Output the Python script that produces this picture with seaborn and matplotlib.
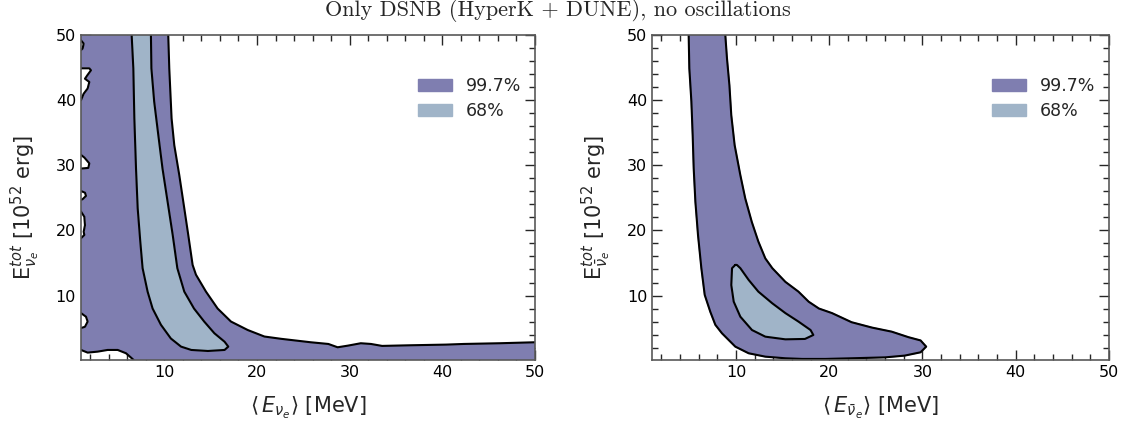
import matplotlib
matplotlib.use("Agg")
import matplotlib.pyplot as plt
import matplotlib.patches as mpatches
import seaborn as sns
import numpy as np

# Contour boundaries (x = <E> [MeV], y = E_tot [1e52 erg])
XMIN, XMAX, YMIN, YMAX = 1.0, 50.0, 0.1, 50.0

# --- nu_e panel: 99.7% region, right/upper boundary
nue_outer_x = [10.42, 10.53, 10.78, 11.07, 11.61, 12.15, 12.58, 13.05, 13.41, 14.49,
               15.75, 17.19, 19.0, 20.8, 22.6, 25.8, 27.7, 28.7, 29.8, 31.2,
               32.3, 33.5, 36.6, 40.4, 42.3, 46.2, 50.0]
nue_outer_y = [50.0, 44.9, 37.2, 33.1, 28.5, 23.4, 19.3, 14.7, 13.2, 10.6,
               8.0, 6.0, 4.7, 3.7, 3.35, 2.82, 2.56, 2.05, 2.3, 2.67,
               2.56, 2.26, 2.36, 2.46, 2.56, 2.67, 2.82]
# bottom-left excluded region (left edge to bottom edge)
nue_low_x = [1.0, 1.72, 2.8, 3.88, 4.96, 5.86, 6.4, 6.68]
nue_low_y = [1.64, 1.23, 1.38, 1.64, 1.64, 1.13, 0.46, 0.1]
# small excluded islands along the left edge
nue_holes = [
    ([1.0, 1.29, 1.18, 1.0], [49.2, 48.7, 47.95, 47.7]),
    ([1.0, 1.9, 2.08, 1.72, 1.43, 1.9, 1.72, 1.29, 1.0],
     [44.9, 44.9, 44.6, 43.9, 43.3, 42.8, 41.8, 41.0, 40.0]),
    ([1.0, 1.36, 1.9, 1.79, 1.0], [31.6, 31.2, 30.3, 29.6, 29.5]),
    ([1.0, 1.43, 1.54, 1.18, 1.0], [26.05, 25.8, 25.3, 24.8, 24.7]),
    ([1.0, 1.36, 1.43, 1.29, 1.36, 1.0], [22.9, 22.1, 20.8, 19.8, 19.3, 18.8]),
    ([1.0, 1.54, 1.72, 1.43, 1.0], [7.3, 6.75, 6.0, 5.2, 5.0]),
]
# 68% band
nue_inner_x = [6.47, 6.65, 6.76, 6.94, 7.12, 7.4, 7.65, 8.19, 8.73, 9.63, 10.7, 11.8,
               12.9, 14.7, 16.5, 16.9, 16.5, 15.4, 14.3, 13.2, 12.15, 11.4, 10.9,
               10.35, 9.8, 9.35, 8.9, 8.6, 8.55]
nue_inner_y = [50.0, 44.9, 37.2, 29.5, 23.4, 18.3, 14.2, 10.6, 8.0, 5.5, 3.4, 2.15,
               1.64, 1.48, 1.64, 2.15, 2.9, 4.2, 6.0, 8.0, 10.6, 14.2, 19.3,
               24.4, 29.5, 34.6, 39.8, 44.9, 50.0]

# --- anti-nu_e panel: 99.7% region (closed)
nuebar_outer_x = [4.93, 5.0, 5.22, 5.36, 5.47, 5.65, 5.93, 6.29, 6.65, 7.25, 7.79, 8.5,
                  9.93, 11.36, 13.15, 15.3, 17.1, 19.6, 22.4, 26.0, 28.1, 29.8, 30.4,
                  29.8, 28.5, 26.7, 24.6, 22.4, 20.3, 18.9, 17.8, 16.7, 15.3, 13.9,
                  13.15, 12.4, 11.7, 11.0, 10.47, 9.86, 9.5, 9.3, 9.04, 8.86]
nuebar_outer_y = [50.0, 44.9, 39.8, 34.6, 29.5, 24.4, 19.3, 14.2, 10.1, 7.5, 5.5, 4.2,
                  2.15, 1.13, 0.61, 0.36, 0.26, 0.26, 0.36, 0.5, 0.77, 1.28, 2.15,
                  3.1, 3.6, 4.45, 5.07, 5.9, 7.3, 8.0, 9.05, 10.6, 12.1, 14.2,
                  15.7, 18.3, 21.3, 24.9, 28.5, 33.1, 37.7, 42.3, 46.4, 50.0]
# 68% island (closed)
nuebar_inner_x = [9.93, 9.58, 9.5, 9.76, 10.47, 11.72, 13.15, 15.3, 17.4, 18.3, 18.0,
                  16.7, 15.3, 13.9, 12.4, 11.36, 10.47, 10.1, 9.93]
nuebar_inner_y = [14.7, 14.2, 11.6, 9.06, 6.75, 4.7, 3.68, 3.27, 3.33, 3.94, 4.7,
                  6.0, 7.3, 8.8, 10.6, 12.4, 14.2, 14.7, 14.7]

levels = ["99.7%", "68%"]
colors = ["#7f7eb0", "#a0b4c8"]

sns.set_style("ticks")
plt.rcParams["font.family"] = ["DejaVu Sans"]

fig = plt.figure(figsize=(11.31, 4.23), dpi=100)
ax1 = fig.add_axes([0.0716, 0.149, 0.4014, 0.768])
ax2 = fig.add_axes([0.5765, 0.149, 0.4040, 0.768])

lw = 1.5


def line(ax, xs, ys):
    sns.lineplot(x=xs, y=ys, sort=False, estimator=None, color="black", lw=lw,
                 ax=ax, zorder=3, solid_joinstyle="round", solid_capstyle="round")


# left panel
outer_poly = ([(XMIN, YMAX)] + list(zip(nue_outer_x, nue_outer_y)) + [(XMAX, YMIN)]
              + list(zip(nue_low_x[::-1], nue_low_y[::-1])))
ax1.add_patch(mpatches.Polygon(outer_poly, closed=True, fc=colors[0], ec="none", zorder=1))
for hx, hy in nue_holes:
    ax1.fill(hx, hy, color="white", zorder=1.5)
    line(ax1, hx, hy)
line(ax1, nue_outer_x, nue_outer_y)
line(ax1, nue_low_x, nue_low_y)
ax1.fill(nue_inner_x, nue_inner_y, color=colors[1], zorder=2)
line(ax1, nue_inner_x, nue_inner_y)

# right panel
ax2.fill(nuebar_outer_x, nuebar_outer_y, color=colors[0], zorder=1)
line(ax2, nuebar_outer_x, nuebar_outer_y)
ax2.fill(nuebar_inner_x, nuebar_inner_y, color=colors[1], zorder=2)
line(ax2, nuebar_inner_x, nuebar_inner_y)

xlabels = [r"$\langle\, E_{\nu_e} \rangle$ [MeV]", r"$\langle\, E_{\bar{\nu}_e} \rangle$ [MeV]"]
ylabels = [r"E$^{tot}_{\nu_e}$ [10$^{52}$ erg]", r"E$^{tot}_{\bar{\nu}_e}$ [10$^{52}$ erg]"]

for ax, xl, yl in zip([ax1, ax2], xlabels, ylabels):
    ax.set_xlim(XMIN, XMAX)
    ax.set_ylim(YMIN, YMAX)
    ax.set_xticks([10, 20, 30, 40, 50])
    ax.set_yticks([10, 20, 30, 40, 50])
    ax.set_xticks(np.arange(2, 50, 2), minor=True)
    ax.set_yticks(np.arange(2, 50, 2), minor=True)
    ax.tick_params(which="both", direction="in", top=True, right=True,
                   labelsize=11.5, color="0.15", width=1, labelcolor="black")
    ax.tick_params(which="major", length=7)
    ax.tick_params(which="minor", length=4)
    for s in ax.spines.values():
        s.set_color("0.35")
        s.set_linewidth(1.2)
        s.set_zorder(4)
    ax.set_xlabel(xl, fontsize=15)
    ax.set_ylabel(yl, fontsize=15)
    ax.xaxis.set_label_coords(0.5, -0.108)
    ax.yaxis.set_label_coords(-0.085, 0.47)
    handles = [mpatches.Patch(color=c, label=l) for c, l in zip(colors, levels)]
    ax.legend(handles=handles, loc="upper right", frameon=False, fontsize=12.5,
              bbox_to_anchor=(1.005, 0.92), handlelength=2.0, handleheight=0.7,
              handletextpad=0.8, labelspacing=0.4)

fig.text(0.4934, 0.963, "Only DSNB (HyperK + DUNE), no oscillations",
         ha="center", va="baseline", fontsize=16, family="cmr10")

fig.savefig("out.png", dpi=100)
